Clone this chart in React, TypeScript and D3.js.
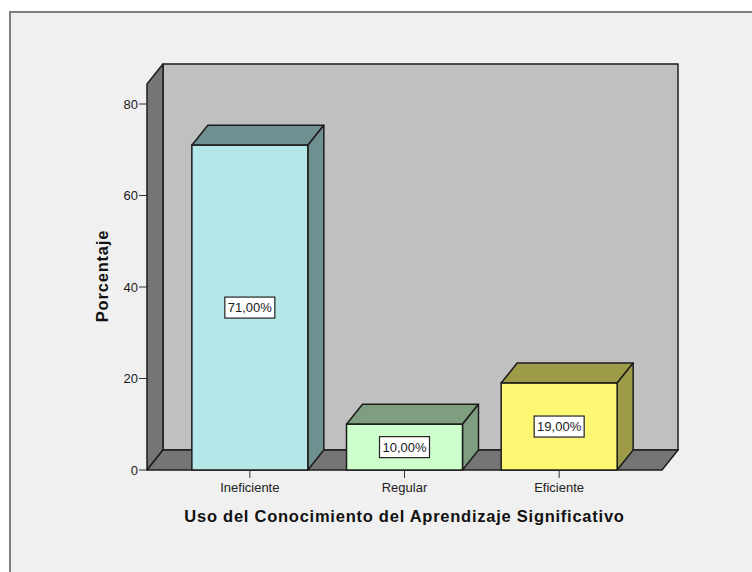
import { useEffect, useRef } from "react";
import * as d3 from "d3";

const categories = ["Ineficiente", "Regular", "Eficiente"];
const porcentajes = [71, 10, 19];
const barColors = ["#b5e6e8", "#ccffcc", "#fdf774"];
const sideColors = ["#6f8f90", "#7e9e7f", "#9d9a48"];
const yTicks = [0, 20, 40, 60, 80];

const width = 752;
const height = 572;
const depthX = 16;
const depthY = 20;
const stroke = "#1c1c1c";
const font = "'Liberation Sans', Arial, sans-serif";

export default function App() {
  const ref = useRef<SVGSVGElement | null>(null);

  useEffect(() => {
    if (!ref.current) return;
    const svg = d3.select(ref.current);
    svg.selectAll("*").remove();

    const y = d3.scaleLinear().domain([0, 80]).range([470, 104]);
    const x = d3.scaleBand<string>().domain(categories).range([147, 662]).paddingInner(0.25).paddingOuter(0.29);
    const x0 = 147;
    const x1 = 662;
    const yBase = y(0);
    const yTop = 84;

    // fondo y marco
    svg.append("rect").attr("width", width).attr("height", height).attr("fill", "#ffffff");
    svg.append("rect").attr("x", 9).attr("y", 11).attr("width", width).attr("height", height).attr("fill", "#f0f0f0");
    svg.append("path").attr("d", `M10,${height}V12H${width}`).attr("fill", "none").attr("stroke", "#7f7f7f").attr("stroke-width", 2);

    const poly = (pts: [number, number][], fill: string, w = 1.5) =>
      svg.append("path").attr("d", d3.line()(pts) + "Z").attr("fill", fill).attr("stroke", stroke).attr("stroke-width", w).attr("stroke-linejoin", "round");

    // paredes 3D
    poly([[x0 + depthX, yTop - depthY], [x1 + depthX, yTop - depthY], [x1 + depthX, yBase - depthY], [x0 + depthX, yBase - depthY]], "#c0c0c0");
    poly([[x0, yTop], [x0 + depthX, yTop - depthY], [x0 + depthX, yBase - depthY], [x0, yBase]], "#757575");
    poly([[x0, yBase], [x0 + depthX, yBase - depthY], [x1 + depthX, yBase - depthY], [x1, yBase]], "#757575");

    // eje y
    const gy = svg.append("g").attr("font-family", font).attr("font-size", 13).attr("fill", "#1a1a1a");
    yTicks.forEach((t) => {
      gy.append("line").attr("x1", x0 - 8).attr("x2", x0).attr("y1", y(t)).attr("y2", y(t)).attr("stroke", "#333").attr("stroke-width", 1);
      gy.append("text").attr("x", x0 - 9).attr("y", y(t)).attr("dy", "0.36em").attr("text-anchor", "end").text(t);
    });

    // barras
    categories.forEach((c, i) => {
      const bx = x(c)!;
      const bw = x.bandwidth();
      const by = y(porcentajes[i]);
      poly([[bx, by], [bx + depthX, by - depthY], [bx + bw + depthX, by - depthY], [bx + bw, by]], sideColors[i]);
      poly([[bx + bw, by], [bx + bw + depthX, by - depthY], [bx + bw + depthX, yBase - depthY], [bx + bw, yBase]], sideColors[i]);
      svg.append("rect").attr("x", bx).attr("y", by).attr("width", bw).attr("height", yBase - by).attr("fill", barColors[i]).attr("stroke", stroke).attr("stroke-width", 1.5);

      const cx = bx + bw / 2;
      const cy = (by + yBase) / 2;
      svg.append("rect").attr("x", cx - 25).attr("y", cy - 10.5).attr("width", 50).attr("height", 21).attr("fill", "#ffffff").attr("stroke", "#222").attr("stroke-width", 1.2);
      svg.append("text").attr("x", cx).attr("y", cy).attr("dy", "0.36em").attr("text-anchor", "middle").attr("font-family", font).attr("font-size", 13).attr("fill", "#1a1a1a")
        .text(porcentajes[i].toFixed(2).replace(".", ",") + "%");

      svg.append("line").attr("x1", cx).attr("x2", cx).attr("y1", yBase).attr("y2", yBase + 8).attr("stroke", "#333").attr("stroke-width", 1);
      svg.append("text").attr("x", cx).attr("y", 491.5).attr("text-anchor", "middle").attr("font-family", font).attr("font-size", 13).attr("fill", "#222").text(c);
    });

    // titulos de ejes
    svg.append("text").attr("transform", "translate(108,276) rotate(-90)").attr("text-anchor", "middle").attr("font-family", font).attr("font-size", 16.5).attr("font-weight", "bold").attr("fill", "#111").attr("letter-spacing", 0.8).text("Porcentaje");
    svg.append("text").attr("x", 404.5).attr("y", 521.5).attr("text-anchor", "middle").attr("font-family", font).attr("font-size", 16.5).attr("font-weight", "bold").attr("fill", "#111").attr("letter-spacing", 0.75).text("Uso del Conocimiento del Aprendizaje Significativo");
  }, []);

  return <svg ref={ref} width={width} height={height} style={{ position: "absolute", left: 0, top: 0 }} />;
}
